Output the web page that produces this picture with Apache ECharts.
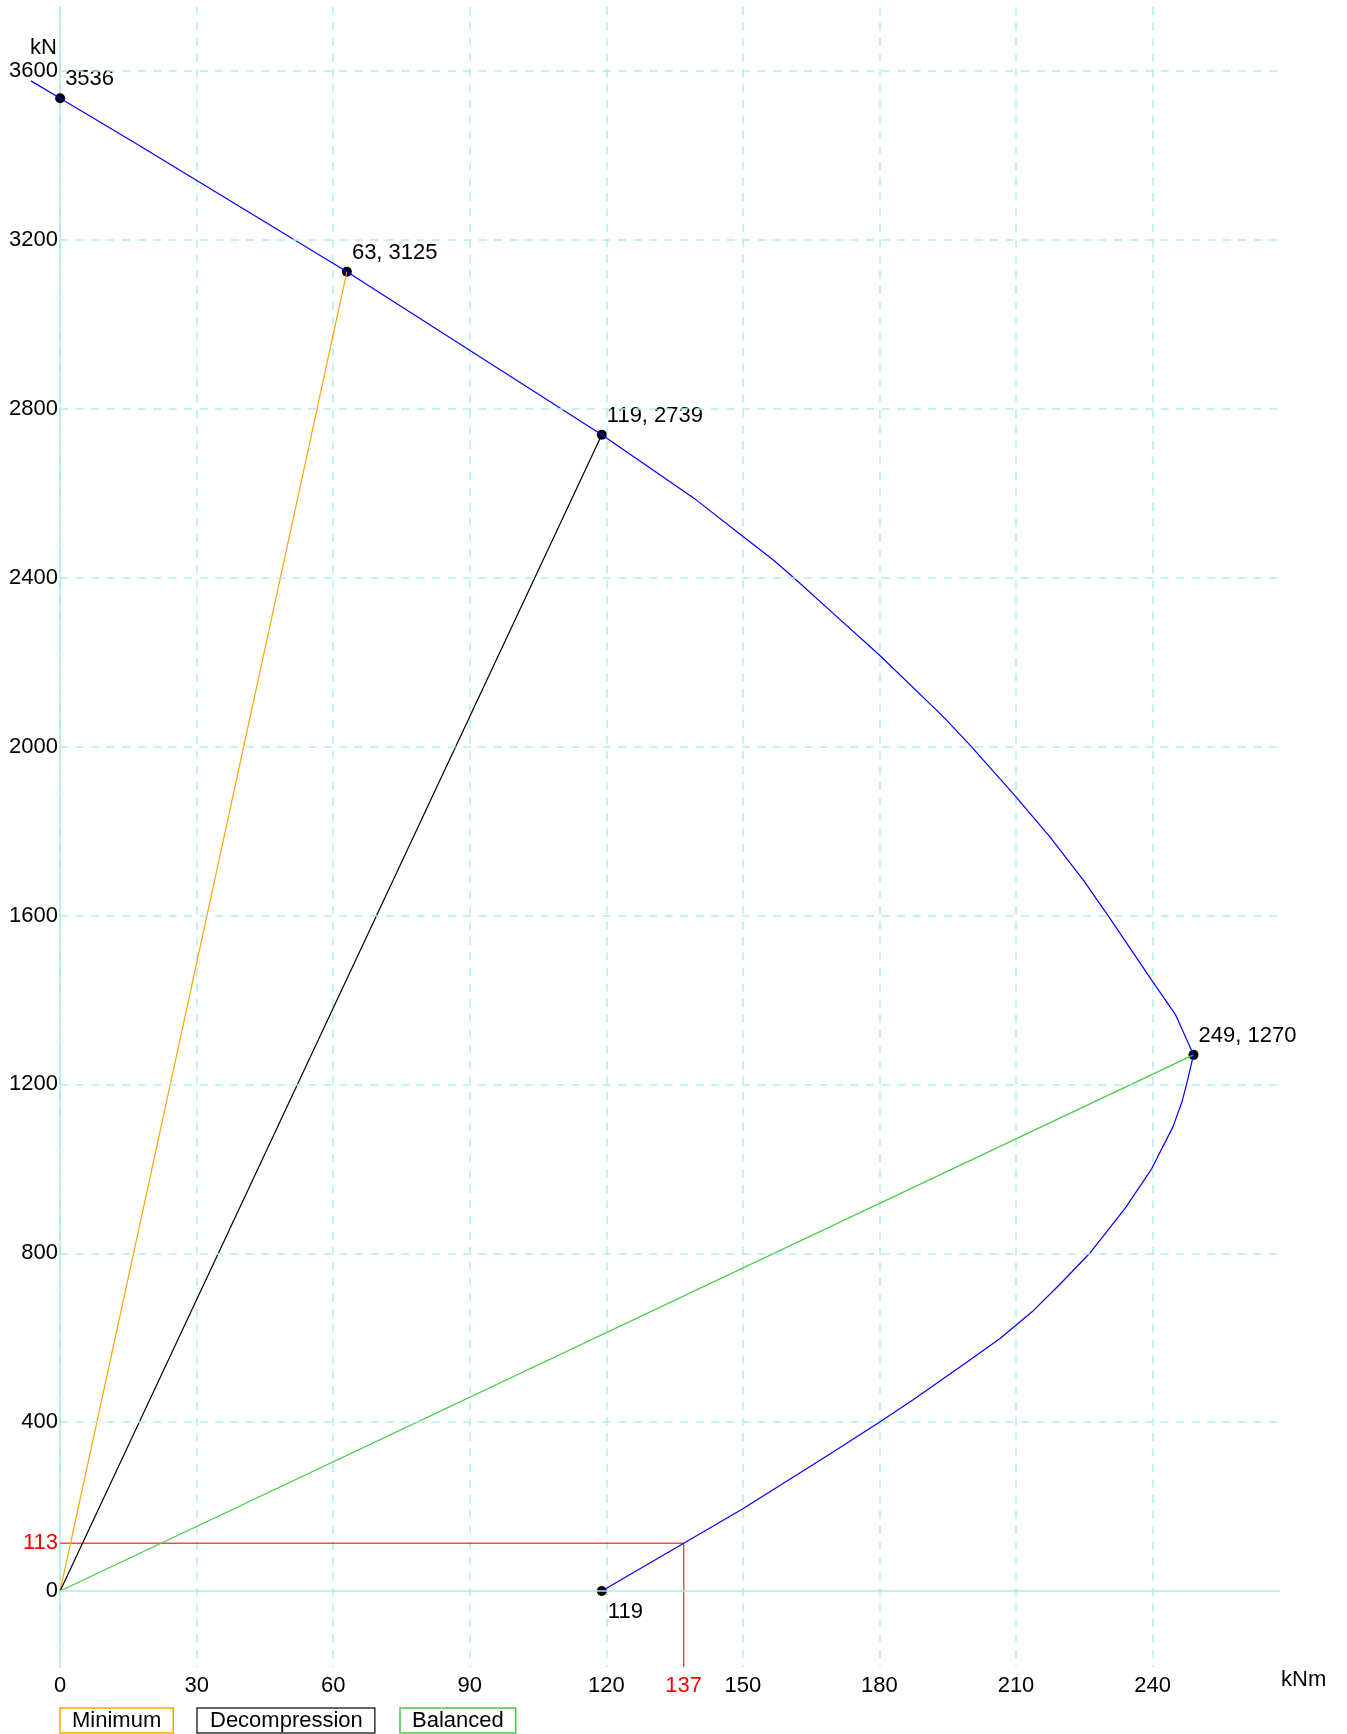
<!DOCTYPE html>
<html>
<head>
<meta charset="utf-8">
<script src="https://cdn.jsdelivr.net/npm/echarts@6/dist/echarts.min.js"></script>
<style>
  html, body { margin: 0; padding: 0; background: #ffffff; }
  #chart { width: 1347px; height: 1734px; }
</style>
</head>
<body>
<div id="chart"></div>
<script>
// Column interaction diagram: bending moment M (kNm) against axial force N (kN)

// Capacity curve, traced from pure compression down to pure bending
const interactionCurve = [
  [-6.4, 3577], [0, 3536], [17.2, 3425], [63, 3125], [119, 2739],
  [139.8, 2584], [150.1, 2497], [156.7, 2442], [161.8, 2394], [169.9, 2315],
  [180.1, 2216], [194, 2071], [200.2, 2000], [209.9, 1882], [217.4, 1787],
  [224.8, 1684], [230.6, 1594], [239.8, 1447], [245.1, 1364], [249, 1270],
  [247.7, 1210], [246.5, 1160], [244.5, 1100], [239.8, 1000], [234.2, 910],
  [226.2, 800], [219.6, 726], [213.8, 664], [206.5, 598], [199.1, 541],
  [187.4, 453], [179.9, 399], [169.9, 330], [159.6, 260], [149.9, 194],
  [137, 113], [119, 0]
];

// Marked points on the curve
const squashPoint = [0, 3536];
const minimumPoint = [63, 3125];
const decompressionPoint = [119, 2739];
const balancedPoint = [249, 1270];
const pureBendingPoint = [119, 0];

// Design action (M, N)
const designPoint = [137, 113];

// Axis ticks and ranges (moment range starts where the curve begins)
const momentTicks = [0, 30, 60, 90, 120, 150, 180, 210, 240];
const forceTicks = [0, 400, 800, 1200, 1600, 2000, 2400, 2800, 3200, 3600];
const momentRange = [-6.4, 268];
const forceRange = [-180, 3752];

const legendNames = ['Minimum', 'Decompression', 'Balanced'];

const FONT = '"Liberation Sans", Arial, Helvetica, sans-serif';
const FONT_SIZE = 22;
const GRID_CYAN = '#aeeeee';
const AXIS_CYAN = '#aee8e8';
const GRID_DASH = [8, 7.5];

const origin = [0, 0];
const keyPoints = [squashPoint, minimumPoint, decompressionPoint, balancedPoint, pureBendingPoint];

function pointLabel(p) {
  const m = p.value[0], n = p.value[1];
  if (m === 0) return String(n);
  if (n === 0) return String(m);
  return m + ', ' + n;
}

// Horizontal grid lines run from M = 0 to the right end of the plot
const forceGridLines = forceTicks.map(n => [
  {
    coord: [0, n],
    lineStyle: n === 0
      ? { type: 'solid', color: AXIS_CYAN, width: 1.5 }
      : { type: GRID_DASH, color: GRID_CYAN, width: 1.5 }
  },
  { coord: [momentRange[1], n] }
]);

const chart = echarts.init(document.getElementById('chart'), null, { renderer: 'canvas' });

const option = {
  animation: false,
  backgroundColor: '#ffffff',
  textStyle: { fontFamily: FONT },
  grid: { left: 31, right: 67, top: 7, bottom: 67, containLabel: false, outerBoundsMode: 'none' },
  xAxis: {
    type: 'value',
    min: momentRange[0],
    max: momentRange[1],
    axisLine: { show: false },
    axisTick: { show: false, customValues: momentTicks },
    axisLabel: {
      customValues: momentTicks.concat([designPoint[0]]),
      margin: 8,
      fontSize: FONT_SIZE,
      fontFamily: FONT,
      color: '#000',
      formatter: v => (v === designPoint[0] ? '{r|' + v + '}' : String(v)),
      rich: { r: { color: '#ff0000', fontSize: FONT_SIZE, fontFamily: FONT } }
    },
    splitLine: { show: true, lineStyle: { color: GRID_CYAN, width: 1.5, type: GRID_DASH } }
  },
  yAxis: {
    type: 'value',
    min: forceRange[0],
    max: forceRange[1],
    axisLine: { show: true, onZero: true, lineStyle: { color: AXIS_CYAN, width: 1.5 } },
    axisTick: { show: false, customValues: forceTicks },
    axisLabel: {
      customValues: forceTicks.concat([designPoint[1]]),
      // labels sit just left of the M = 0 line, which is inset from the grid edge
      margin: -27,
      fontSize: FONT_SIZE,
      fontFamily: FONT,
      color: '#000',
      formatter: v => (v === designPoint[1] ? '{r|' + v + '}' : String(v)),
      rich: { r: { color: '#ff0000', fontSize: FONT_SIZE, fontFamily: FONT } }
    },
    splitLine: { show: false }
  },
  series: [
    {
      // horizontal grid and zero-force line
      type: 'line',
      data: [],
      silent: true,
      z: 0,
      markLine: {
        silent: true,
        symbol: 'none',
        label: { show: false },
        data: forceGridLines
      }
    },
    {
      name: 'Design',
      type: 'line',
      data: [[0, designPoint[1]], designPoint, [designPoint[0], forceRange[0]]],
      symbol: 'none',
      silent: true,
      lineStyle: { color: 'rgba(255,0,0,0.72)', width: 1.5 }
    },
    {
      name: legendNames[0],
      type: 'line',
      data: [origin, minimumPoint],
      symbol: 'none',
      silent: true,
      lineStyle: { color: '#ffa500', width: 1.2 }
    },
    {
      name: legendNames[1],
      type: 'line',
      data: [origin, decompressionPoint],
      symbol: 'none',
      silent: true,
      lineStyle: { color: '#000000', width: 1.2 }
    },
    {
      name: legendNames[2],
      type: 'line',
      data: [origin, balancedPoint],
      symbol: 'none',
      silent: true,
      lineStyle: { color: '#44cc44', width: 1.2 }
    },
    {
      name: 'Capacity',
      type: 'line',
      data: interactionCurve,
      symbol: 'none',
      clip: false,
      silent: true,
      lineStyle: { color: '#0000ff', width: 1.2 }
    },
    {
      name: 'Points',
      type: 'scatter',
      symbol: 'circle',
      symbolSize: 10,
      silent: true,
      itemStyle: { color: '#000000', opacity: 1 },
      data: keyPoints.map(v => ({
        value: v,
        label: v[1] === 0 ? { offset: [1, 21] } : {}
      })),
      label: {
        show: true,
        position: 'right',
        distance: 0,
        offset: [0, -19],
        fontSize: FONT_SIZE,
        fontFamily: FONT,
        color: '#000',
        formatter: pointLabel
      }
    }
  ],
  graphic: [
    {
      type: 'text', x: 57, y: 48, silent: true,
      style: { text: 'kN', font: FONT_SIZE + 'px ' + FONT, fill: '#000', align: 'right', verticalAlign: 'middle' }
    },
    {
      type: 'text', x: 1281, y: 1680, silent: true,
      style: { text: 'kNm', font: FONT_SIZE + 'px ' + FONT, fill: '#000', align: 'left', verticalAlign: 'middle' }
    },
    {
      type: 'text', x: 60, y: 1708, silent: true,
      style: {
        text: legendNames[0], font: FONT_SIZE + 'px ' + FONT, fill: '#000', lineHeight: 24,
        borderColor: '#ffa500', borderWidth: 1.5, padding: [1, 12, 0, 12]
      }
    },
    {
      type: 'text', x: 197, y: 1708, silent: true,
      style: {
        text: legendNames[1], font: FONT_SIZE + 'px ' + FONT, fill: '#000', lineHeight: 24,
        borderColor: '#333333', borderWidth: 1.5, padding: [1, 12, 0, 13]
      }
    },
    {
      type: 'text', x: 400, y: 1708, silent: true,
      style: {
        text: legendNames[2], font: FONT_SIZE + 'px ' + FONT, fill: '#000', lineHeight: 24,
        borderColor: '#44cc44', borderWidth: 1.5, padding: [1, 12, 0, 12]
      }
    }
  ]
};

chart.setOption(option);
</script>
</body>
</html>
